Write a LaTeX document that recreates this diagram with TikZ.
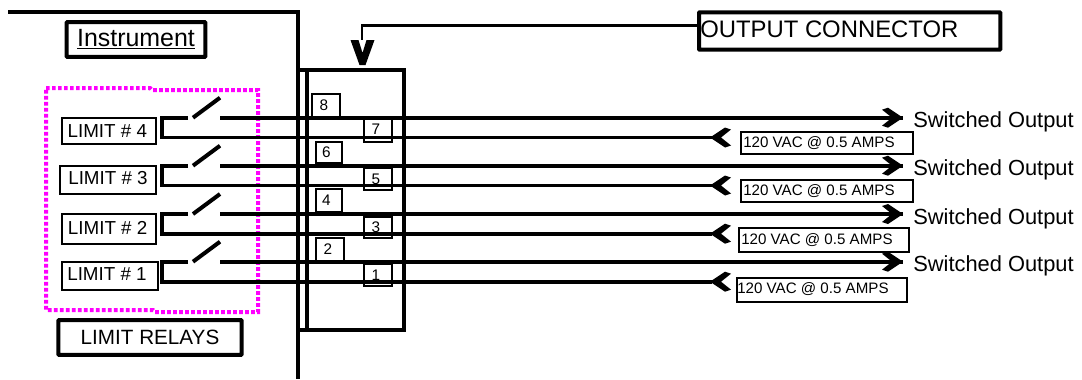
\documentclass[tikz,border=0pt]{standalone}
\usepackage{fontspec}
\setmainfont{Liberation Sans}
\newcommand{\szA}{\fontsize{18.7pt}{20pt}\selectfont}
\newcommand{\szO}{\fontsize{17.9pt}{20pt}\selectfont}
\newcommand{\szB}{\fontsize{16.4pt}{20pt}\selectfont}
\newcommand{\szC}{\fontsize{14.1pt}{18pt}\selectfont}
\newcommand{\szD}{\fontsize{15.5pt}{18pt}\selectfont}
\newcommand{\szE}{\fontsize{11.35pt}{14pt}\selectfont}
\newcommand{\szF}{\fontsize{11.5pt}{14pt}\selectfont}
\definecolor{magenta1}{RGB}{255,0,255}
\tikzset{
  x=0.75pt,y=-0.75pt,
  heavy/.style={line width=3pt,line cap=butt,line join=miter},
  wire/.style={line width=2.8pt},
  thinbox/.style={draw=black,line width=1.4pt,rectangle,inner sep=0pt,text=black},
  thickbox/.style={draw=black,line width=3pt,rectangle,inner sep=0pt,rounded corners=0.5pt},
  limitbox/.style={thinbox,font=\szC,minimum width=71pt},
  pinbox/.style={thinbox,font=\szF,minimum width=21pt,minimum height=17pt},
  vactext/.style={font=\szE,anchor=west,inner sep=0pt},
  outlabel/.style={font=\szB,anchor=west,inner sep=0pt},
  relay/.style={draw=magenta1,line width=3pt,dash pattern=on 2.8pt off 1.7pt},
  chevron/.style={fill=black,draw=none},
}
\begin{document}
\begin{tikzpicture}
\useasboundingbox (0,0) rectangle (1082,379);
\fill[white] (0,0) rectangle (1082,379);

% limit relay dotted outline
\draw[relay] (46,88) -- (150,88) -- (152,90) -- (258,90) -- (258,312) -- (155,312) -- (153,310) -- (46,310) -- cycle;

% instrument outline
\coordinate (wallA) at (8,12);
\coordinate (wallB) at (298,12);
\coordinate (wallC) at (298,379);
\draw[heavy] (wallA) -- (wallB) -- (wallC);

% output connector body
\coordinate (cTL) at (298,70);
\coordinate (cTR) at (404,70);
\coordinate (cBR) at (404,330);
\coordinate (cBL) at (298,330);
\coordinate (cIT) at (307,70);
\coordinate (cIB) at (307,330);
\draw[heavy] (cTL) -- (cTR) -- (cBR) -- (cBL);
\draw[heavy] (cIT) -- (cIB);

% titled boxes
\node[thickbox,minimum width=104pt,minimum height=26pt] (instrument) at (136,39.5) {\szA\underline{Instrument}};
\node[thickbox,minimum width=137.5pt,minimum height=26pt] (relays) at (150,337.5) {\szD\raisebox{1pt}{LIMIT RELAYS}};
\node[thickbox,anchor=west,minimum width=226pt,minimum height=28pt] (output) at (697,31) {};
\node[font=\szO,anchor=west,inner sep=0pt] (outputtext) at (700,29) {OUTPUT CONNECTOR};

% limit labels
\node[limitbox,minimum height=19.5pt] (lim4) at (109,131) {\kern-2.5pt LIMIT \# 4};
\node[limitbox,minimum width=72pt,minimum height=21pt] (lim3) at (108,180) {\raisebox{3.5pt}{LIMIT \# 3}};
\node[limitbox,minimum height=22.5pt] (lim2) at (109,229) {\kern-2pt\raisebox{1pt}{LIMIT \# 2}};
\node[limitbox,minimum width=72.5pt,minimum height=21pt] (lim1) at (110,276) {\kern-4.5pt\raisebox{3pt}{LIMIT \# 1}};

% pin boxes
\node[pinbox] (p8) at (326,105.5) {\kern-3pt 8};
\node[pinbox] (p7) at (378,130.5) {\kern-3pt\raisebox{1.5pt}{7}};
\node[pinbox,minimum width=19.5pt,minimum height=15.5pt] (p6) at (329,152.5) {\kern-4pt 6};
\node[pinbox] (p5) at (378,179) {\kern-3pt 5};
\node[pinbox,minimum width=19.5pt] (p4) at (329,200.5) {\kern-4pt 4};
\node[pinbox,minimum height=15.5pt] (p3) at (378,227.5) {\kern-3pt\raisebox{1pt}{3}};
\node[pinbox] (p2) at (330,249.5) {\kern-3pt 2};
\node[pinbox] (p1) at (378,275) {\kern-3pt 1};

% voltage boxes
\node[thinbox,anchor=west,minimum width=129pt,minimum height=16.5pt] (v4) at (740,143) {};
\node[vactext] at (743,143.5) {120 VAC @ 0.5 AMPS};
\node[thinbox,anchor=west,minimum width=129pt,minimum height=16.5pt] (v3) at (740,191) {};
\node[vactext] at (743,191.5) {120 VAC @ 0.5 AMPS};
\node[thinbox,anchor=west,minimum width=127.5pt,minimum height=18pt] (v2) at (738,240) {};
\node[vactext] at (741,240) {120 VAC @ 0.5 AMPS};
\node[thinbox,anchor=west,minimum width=127.5pt,minimum height=18pt] (v1) at (736,290) {};
\node[vactext] at (737,289) {120 VAC @ 0.5 AMPS};

% switched output labels
\node[outlabel] (s4) at (913,122) {Switched Output};
\node[outlabel] (s3) at (913,170) {Switched Output};
\node[outlabel] (s2) at (913,219) {Switched Output};
\node[outlabel] (s1) at (913,266) {Switched Output};

% relay wiring, one row per limit
\foreach \n/\yt/\yb in {4/117.7/137.5,3/165.7/185.5,2/214/233.7,1/261.7/281.7}{
  \coordinate (com\n) at (162,\yt);
  \coordinate (comb\n) at (162,\yb);
  \coordinate (con\n) at (188,\yt);
  \coordinate (bladeA\n) at (193,\yt);
  \coordinate (bladeB\n) at (220,\yt-20);
  \coordinate (nc\n) at (220,\yt);
  \coordinate (outTip\n) at (903,\yt);
  \coordinate (inTip\n) at (712,\yb);
  \draw[wire,line join=miter] (con\n) -- (com\n) -- (comb\n) -- (inTip\n);
  \draw[line width=3.4pt] (com\n) -- (comb\n);
  \draw[wire] (nc\n) -- (outTip\n);
  \draw[line width=3pt,line cap=butt] (bladeA\n) -- (bladeB\n);
  \fill[chevron,shift={(outTip\n)}] (0,0) -- (-15,-10) -- (-21,-8) -- (-11,0) -- (-21,8) -- (-15,10) -- cycle;
  \fill[chevron,shift={(inTip\n)}] (-2,0) -- (13,-10) -- (19,-8) -- (9,0) -- (19,8) -- (13,10) -- cycle;
}

% output connector leader
\coordinate (bend) at (362,25.5);
\coordinate (vTip) at (362.5,65);
\draw[line width=1.9pt] (output.west |- bend) -- (bend) -- (362,40);
\fill[chevron,shift={(vTip)}] (-3,0) -- (3,0) -- (12,-25) -- (4,-25) -- (0,-12) -- (-4,-25) -- (-12,-25) -- cycle;
\end{tikzpicture}
\end{document}
